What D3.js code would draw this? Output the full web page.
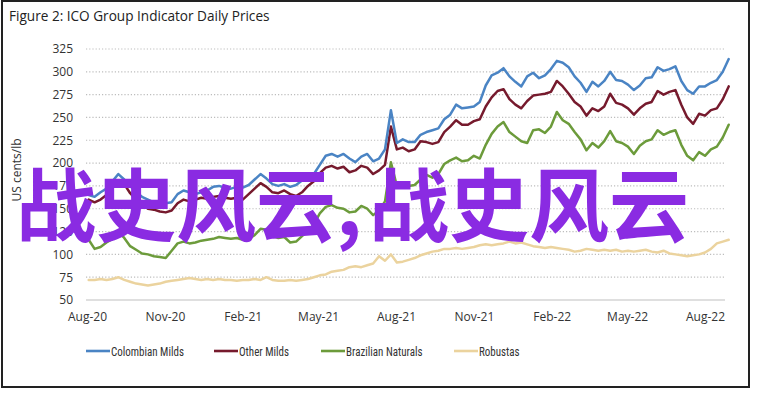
<!DOCTYPE html>
<html><head><meta charset="utf-8">
<script src="https://cdn.jsdelivr.net/npm/d3@7"></script>
<style>
html,body{margin:0;padding:0;background:#fff;}
svg{display:block;}
</style></head>
<body>
<svg id="chart" width="758" height="393"></svg>
<script>
// ---- data (weekly readings, starting 3 Aug 2020) ----
const startDate = "2020-08-03";
const seriesNames = ["Colombian Milds", "Other Milds", "Brazilian Naturals", "Robustas"];
const colombianMilds = [165,163,168,172,180,188,182,175,168,163,160,157,158,156,157,166,170,168,166,168,170,174,175,173,172,174,173,
176,182,188,183,177,175,177,174,176,181,184,188,198,208,210,207,210,205,201,207,210,202,205,215,258,222,
226,223,223,231,234,236,238,248,253,264,260,261,262,267,285,296,299,304,295,289,284,295,299,293,296,303,312,310,
305,295,288,278,289,284,290,300,291,290,286,280,285,293,294,305,301,303,306,290,280,276,284,284,288,291,300,314];
const otherMilds = [160,157,160,165,175,181,177,167,160,155,150,149,147,146,148,156,160,158,160,162,161,163,164,162,161,162,160,
166,172,178,174,168,167,170,166,164,168,175,180,189,195,197,194,196,190,192,197,195,188,192,198,240,215,
217,213,215,224,223,221,223,234,240,247,242,242,246,248,262,272,279,281,270,264,260,268,274,275,276,278,290,284,
276,267,262,252,260,257,262,276,266,264,260,253,260,265,267,279,275,278,280,264,250,243,254,252,258,260,270,284];
const brazilianNaturals = [116,106,108,113,117,125,118,109,105,101,100,98,97,96,104,112,114,112,113,115,116,117,119,118,117,118,116,
117,121,128,127,120,118,119,113,114,120,125,133,145,152,154,151,150,146,147,153,150,143,148,158,201,175,
178,175,176,182,187,184,188,199,203,206,202,203,208,205,220,232,240,245,234,229,224,222,236,237,233,240,256,247,
243,234,226,214,222,217,224,235,224,222,218,210,219,224,226,236,231,234,236,220,208,203,212,208,215,218,228,242];
const robustas = [72,72,73,72,73,75,72,70,68,67,66,67,68,70,71,72,73,74,73,72,73,72,73,72,72,71,72,
72,73,72,75,72,71,71,72,71,72,73,75,77,78,81,82,83,86,87,86,88,90,98,93,100,91,
92,94,96,99,101,103,104,106,106,107,106,107,108,110,111,110,111,112,114,112,113,111,109,108,107,108,107,106,
105,103,104,106,105,104,105,104,105,103,104,103,104,105,103,102,104,101,100,99,98,99,100,102,106,112,114,116];
const xTickLabels = ["Aug-20","Nov-20","Feb-21","May-21","Aug-21","Nov-21","Feb-22","May-22","Aug-22"];
const yTicks = [50,75,100,125,150,175,200,225,250,275,300,325];
const colors = ["#4a84c4", "#761a2d", "#6c9b3b", "#ebd39e"];
const titleText = "Figure 2: ICO Group Indicator Daily Prices";
const yTitle = "US cents/lb";
const watermark = ["战史风云,", "战史风云"];

// ---- chart ----
const svg = d3.select("#chart");
const parse = d3.utcParse("%Y-%m-%d");
const t0 = parse(startDate);
const allSeries = [colombianMilds, otherMilds, brazilianNaturals, robustas];
const dateOf = i => d3.utcDay.offset(t0, 7 * i);

const x = d3.scaleUtc().domain([parse("2020-08-01"), parse("2022-08-01")]).range([87, 705]);
const y = d3.scaleLinear().domain([50, 325]).range([300, 49]);

// frame
svg.append("rect").attr("x", 2).attr("y", 1).attr("width", 747).attr("height", 386)
  .attr("fill", "#fff").attr("stroke", "#222").attr("stroke-width", 2);

// title
svg.append("text").attr("x", 9).attr("y", 21).text(titleText)
  .attr("font-family", "'Open Sans', sans-serif").attr("font-size", 13.6).attr("fill", "#222");

// gridlines
const plotLeft = 86, plotRight = 725;
svg.append("g").selectAll("line").data(yTicks.filter(v => v > 50)).join("line")
  .attr("x1", plotLeft).attr("x2", plotRight)
  .attr("y1", d => y(d)).attr("y2", d => y(d))
  .attr("stroke", "#bdbdbd").attr("stroke-width", 1.2).attr("stroke-dasharray", "1.2,2");
svg.append("line").attr("x1", plotLeft).attr("x2", plotRight).attr("y1", y(50)).attr("y2", y(50))
  .attr("stroke", "#d4d4d4").attr("stroke-width", 1.3);

// y axis labels
const yAxis = d3.axisLeft(y).tickValues(yTicks).tickSize(0).tickPadding(0);
const gy = svg.append("g").attr("transform", "translate(73,0)").call(yAxis);
gy.select(".domain").remove();
gy.selectAll("text").attr("font-family", "'Open Sans', sans-serif").attr("font-size", 12).attr("fill", "#333");

// x axis labels
const xTickDates = xTickLabels.map(s => d3.utcParse("%b-%y")(s));
const xAxis = d3.axisBottom(x).tickValues(xTickDates).tickFormat((d, i) => xTickLabels[i]).tickSize(0).tickPadding(0);
const gx = svg.append("g").attr("transform", "translate(0,312)").call(xAxis);
gx.select(".domain").remove();
gx.selectAll("text").attr("font-family", "'Open Sans', sans-serif").attr("font-size", 12).attr("fill", "#333");

// y title
svg.append("text").attr("transform", "translate(20.5,170) rotate(-90)").attr("text-anchor", "middle")
  .text(yTitle).attr("font-family", "'Open Sans', sans-serif").attr("font-size", 12).attr("fill", "#333");

// lines
const line = d3.line().x((d, i) => x(dateOf(i))).y(d => y(d)).curve(d3.curveLinear);
const order = [3, 2, 1, 0];
svg.append("g").selectAll("path").data(order).join("path")
  .attr("d", k => line(allSeries[k]))
  .attr("fill", "none").attr("stroke", k => colors[k]).attr("stroke-width", 2.5)
  .attr("stroke-linejoin", "round").attr("stroke-linecap", "round");

// legend
const legendX = [86, 214, 321, 454];
const lg = svg.append("g").selectAll("g").data(seriesNames).join("g")
  .attr("transform", (d, i) => `translate(${legendX[i]},351)`);
lg.append("line").attr("x1", 0).attr("x2", 24).attr("y1", 0).attr("y2", 0)
  .attr("stroke", (d, i) => colors[i]).attr("stroke-width", 2.6);
lg.append("text").attr("transform", "translate(25,4.5) scale(0.88,1)").text(d => d)
  .attr("font-family", "'Liberation Sans Narrow', 'Roboto Condensed', sans-serif").attr("font-size", 12.5).attr("fill", "#333");

// watermark overlay
const wm = svg.append("text").attr("font-family", "'Noto Sans CJK SC', sans-serif")
  .attr("font-size", 80).attr("font-weight", "bold").attr("fill", "#8a2be2");
wm.append("tspan").attr("x", 16).attr("y", 235).text(watermark[0]);
wm.append("tspan").attr("x", 369).attr("y", 235).text(watermark[1]);
</script>
</body></html>
